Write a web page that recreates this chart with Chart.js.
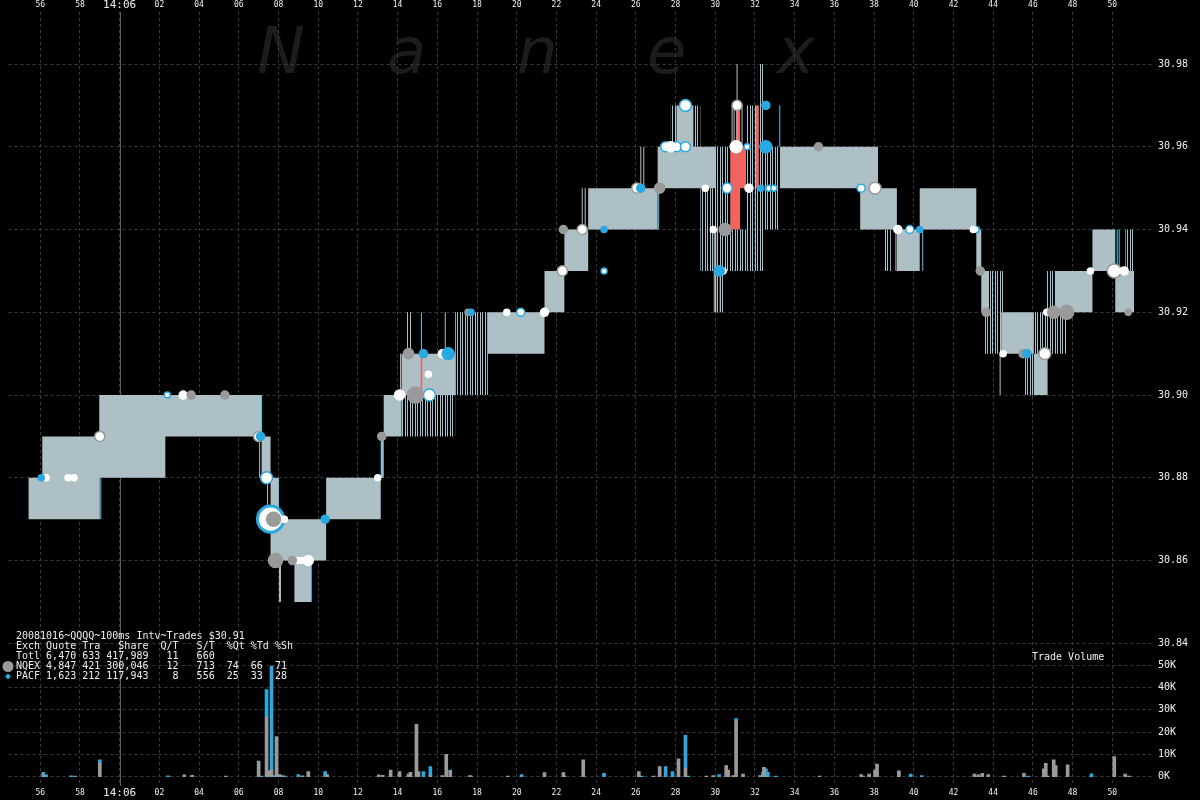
<!DOCTYPE html>
<html>
<head>
<meta charset="utf-8">
<script src="https://cdn.jsdelivr.net/npm/chart.js@4.4.1/dist/chart.umd.min.js"></script>
<style>
  html, body { margin: 0; padding: 0; background: #000; }
</style>
</head>
<body>
<canvas id="chart" width="1200" height="800"></canvas>
<script>
// time is in seconds relative to 14:06:00
const tickSecs = [-4, -2, 0, 2, 4, 6, 8, 10, 12, 14, 16, 18, 20, 22, 24, 26, 28, 30, 32, 34, 36, 38, 40, 42, 44, 46, 48, 50];
const tickLabels = ['56', '58', '14:06', '02', '04', '06', '08', '10', '12', '14', '16', '18', '20', '22', '24', '26', '28', '30', '32', '34', '36', '38', '40', '42', '44', '46', '48', '50'];
const priceTicks = [30.84, 30.86, 30.88, 30.90, 30.92, 30.94, 30.96, 30.98];
const volTicks = [0, 10, 20, 30, 40, 50];

const infoLines = [
    '20081016~QQQQ~100ms Intv~Trades $30.91',
    'Exch Quote Tra   Share  Q/T   S/T  %Qt %Td %Sh',
    'Totl 6,470 633 417,989   11   660',
    'NQEX 4,847 421 300,046   12   713  74  66  71',
    'PACF 1,623 212 117,943    8   556  25  33  28'
];

// quote range per interval (value holds until next time, null = no quote)
const solidT = [-4.6, -3.9, -1.0, 2.3, 7.15, 7.6, 8.0, 8.8, 9.65, 10.4, 13.15, 13.3, 14.2, 16.9, 18.55, 21.4, 22.4, 23.6, 27.1, 28.05, 28.9, 30.05, 33.25, 37.3, 38.2, 39.15, 40.3, 43.15, 43.4, 43.8, 44.4, 46.05, 46.75, 47.1, 49.0, 50.15, 51.1];
const solidLo = [30.87, 30.87, 30.88, 30.89, 30.88, 30.86, 30.86, 30.85, 30.86, 30.87, 30.88, 30.89, 30.90, null, 30.91, 30.92, 30.93, 30.94, 30.95, 30.95, 30.95, null, 30.95, 30.94, 30.94, 30.93, 30.94, 30.93, 30.92, null, 30.91, 30.90, null, 30.92, 30.93, 30.92, null];
const solidHi = [30.88, 30.89, 30.90, 30.90, 30.89, 30.88, 30.87, 30.87, 30.87, 30.88, 30.89, 30.90, 30.91, null, 30.92, 30.93, 30.94, 30.95, 30.96, 30.97, 30.96, null, 30.96, 30.96, 30.95, 30.94, 30.95, 30.94, 30.93, null, 30.92, 30.91, null, 30.93, 30.94, 30.93, null];

// flickering quote regions (drawn as sparse lines)
const sparseT = [14.2, 16.9, 18.55, 27.75, 28.05, 28.9, 29.25, 29.9, 30.4, 30.75, 31.55, 32.15, 32.5, 33.25, 38.55, 38.85, 43.5, 43.8, 44.4, 44.55, 45.6, 46.05, 46.7, 47.1, 47.7, 50.65, 51.1];
const sparseLo = [30.89, 30.90, null, 30.96, null, 30.96, 30.93, 30.92, 30.93, 30.93, 30.93, 30.93, 30.94, null, 30.93, null, 30.91, 30.91, 30.92, null, 30.90, 30.91, 30.91, 30.91, null, 30.93, null];
const sparseHi = [30.90, 30.92, null, 30.97, null, 30.97, 30.95, 30.96, 30.96, 30.94, 30.97, 30.98, 30.96, null, 30.94, null, 30.92, 30.93, 30.93, null, 30.91, 30.92, 30.93, 30.92, null, 30.94, null];

// crossed quotes
const redT = [15.15, 15.25, 30.75, 31.05, 31.25, 31.55, 32.05, 32.2];
const redLo = [30.90, null, 30.94, 30.94, 30.95, null, 30.95, null];
const redHi = [30.91, null, 30.96, 30.97, 30.96, null, 30.97, null];

// single quote spikes
const grayLineT = [-1.0, 7.05, 7.45, 8.05, 8.1, 14.15, 14.5, 14.65, 16.4, 23.3, 23.45, 26.25, 26.4, 29.95, 30.1, 30.25, 30.85, 30.95, 31.1, 31.35, 39.1, 44.35];
const grayLineLo = [30.89, 30.88, 30.87, 30.85, 30.85, 30.90, 30.91, 30.91, 30.91, 30.94, 30.94, 30.95, 30.95, 30.92, 30.92, 30.92, 30.96, 30.96, 30.96, 30.96, 30.93, 30.90];
const grayLineHi = [30.90, 30.89, 30.88, 30.86, 30.86, 30.91, 30.92, 30.92, 30.92, 30.95, 30.95, 30.96, 30.96, 30.94, 30.94, 30.93, 30.97, 30.97, 30.98, 30.97, 30.94, 30.91];
const blueLineT = [-0.95, 7.15, 8.0, 9.65, 13.2, 15.2, 27.15, 33.25, 40.45, 50.25, 50.35];
const blueLineLo = [30.87, 30.89, 30.87, 30.85, 30.88, 30.91, 30.94, 30.96, 30.93, 30.93, 30.93];
const blueLineHi = [30.88, 30.90, 30.88, 30.86, 30.89, 30.92, 30.95, 30.97, 30.94, 30.94, 30.94];

// trades: time, price, shares
const nqT = [3.6, 5.3, 7.75, 7.85, 8.7, 13.2, 14.55, 14.9, 17.55, 22.35, 27.2, 30.5, 35.2, 43.35, 43.65, 45.5, 47.05, 47.7, 50.8];
const nqP = [30.90, 30.90, 30.87, 30.86, 30.86, 30.89, 30.91, 30.90, 30.92, 30.94, 30.95, 30.94, 30.96, 30.93, 30.92, 30.91, 30.92, 30.92, 30.92];
const nqSz = [1400, 1400, 6800, 6800, 1400, 1400, 2800, 9500, 500, 1400, 2800, 4500, 1400, 1400, 1400, 1400, 4500, 6800, 500];
const pcT = [-3.95, 7.1, 10.35, 15.3, 16.55, 17.7, 24.4, 26.25, 30.2, 32.3, 32.55, 32.55, 40.3, 45.7];
const pcP = [30.88, 30.89, 30.87, 30.91, 30.91, 30.92, 30.94, 30.95, 30.93, 30.95, 30.96, 30.97, 30.94, 30.91];
const pcSz = [500, 1400, 1400, 1400, 4500, 500, 500, 1400, 2800, 500, 4500, 1400, 500, 1400];
const nqWT = [-1.0, 7.0, 22.3, 23.3, 26.05, 31.1, 38.05, 46.6, 50.1];
const nqWP = [30.89, 30.89, 30.93, 30.94, 30.95, 30.97, 30.95, 30.91, 30.93];
const nqWSz = [2800, 2800, 2800, 2800, 2800, 2800, 4500, 4500, 6800];
const pcWT = [2.4, 7.4, 7.6, 15.6, 20.2, 24.4, 27.5, 28.05, 28.5, 28.5, 30.6, 31.6, 32.7, 32.95, 37.35, 39.8, 43.15];
const pcWP = [30.90, 30.88, 30.87, 30.90, 30.92, 30.93, 30.96, 30.96, 30.96, 30.97, 30.95, 30.96, 30.95, 30.95, 30.95, 30.94, 30.94];
const pcWSz = [500, 4500, 30000, 4500, 1400, 500, 2800, 2800, 2800, 4500, 2800, 500, 500, 500, 1400, 1400, 500];
const wtT = [-3.7, -2.6, -2.3, 3.2, 8.15, 8.3, 9.0, 9.2, 9.5, 13.0, 14.1, 15.05, 15.55, 16.25, 19.5, 21.4, 27.75, 29.5, 29.9, 30.4, 31.05, 31.7, 39.2, 43.0, 44.5, 46.7, 48.9, 50.6];
const wtP = [30.88, 30.88, 30.88, 30.90, 30.87, 30.87, 30.86, 30.86, 30.86, 30.88, 30.90, 30.90, 30.905, 30.91, 30.92, 30.92, 30.96, 30.95, 30.94, 30.93, 30.96, 30.95, 30.94, 30.94, 30.91, 30.92, 30.93, 30.93];
const wtSz = [500, 500, 500, 1400, 500, 500, 500, 500, 2800, 500, 2800, 2800, 500, 1400, 500, 1400, 2800, 500, 500, 500, 4500, 1400, 1400, 500, 500, 500, 500, 1400];

// trade volume in thousands of shares
const nqVolT = [-3.85, -2.25, -1.0, 3.25, 3.65, 5.35, 7.0, 7.4, 7.55, 7.65, 7.9, 8.05, 8.2, 9.2, 9.5, 10.45, 13.05, 13.25, 13.65, 14.1, 14.55, 14.65, 14.95, 15.05, 15.65, 16.25, 16.45, 16.65, 17.65, 19.55, 21.4, 22.35, 23.35, 26.15, 26.9, 27.2, 28.15, 28.5, 29.55, 29.9, 30.55, 30.65, 30.9, 31.05, 31.4, 32.25, 32.45, 35.25, 37.35, 37.75, 38.05, 38.15, 39.25, 43.05, 43.25, 43.45, 43.75, 44.55, 45.55, 46.55, 46.65, 46.75, 47.05, 47.15, 47.75, 50.1, 50.65, 50.85];
const nqVol = [1.0, 0.3, 6.0, 0.8, 0.6, 0.3, 7.0, 26.7, 2.7, 3.0, 18.0, 1.0, 0.5, 0.4, 2.3, 1.0, 0.8, 0.6, 3.0, 2.3, 1.2, 2.0, 23.4, 2.3, 0.5, 0.5, 10.0, 2.5, 0.5, 0.3, 1.8, 1.8, 7.6, 2.3, 0.3, 4.5, 8.0, 3.8, 0.3, 0.5, 5.0, 3.0, 0.5, 25.0, 1.2, 0.5, 4.2, 0.3, 1.0, 1.2, 3.0, 5.7, 2.6, 1.2, 0.8, 1.5, 1.0, 0.3, 1.5, 3.5, 6.0, 0.3, 7.5, 5.0, 5.3, 9.0, 1.2, 0.3];
const pcVolT = [-3.85, -3.7, -2.45, -1.0, 2.45, 7.15, 7.4, 7.65, 7.8, 8.35, 9.0, 10.35, 15.3, 15.65, 16.65, 17.7, 20.25, 22.4, 24.4, 26.3, 27.5, 27.85, 28.5, 28.65, 30.2, 31.05, 32.4, 32.55, 32.65, 33.05, 37.45, 39.85, 40.4, 45.75, 48.95];
const pcVol = [1.0, 0.8, 0.4, 1.5, 0.4, 0.3, 12.3, 46.5, 0.5, 0.3, 1.0, 2.3, 2.3, 4.0, 0.5, 0.3, 1.0, 0.3, 1.5, 0.3, 4.5, 2.3, 14.7, 0.3, 1.0, 1.0, 2.0, 3.5, 2.0, 0.3, 0.3, 1.2, 0.5, 0.3, 1.3];

const GRAY = '#9a9a9a';
const BLUE = '#29a9e1';
const GRID = '#3a3a3a';
const MONO = '"DejaVu Sans Mono", monospace';

// both value axes fill the same plot height
const PRICE_MIN = 30.80551, PRICE_MAX = 30.99257;
const VOL_MIN = -4.16, VOL_MAX = 342.3;

function stripes(cols) {
    const c = document.createElement('canvas');
    c.width = cols.length;
    c.height = 1;
    const g = c.getContext('2d');
    cols.forEach((col, i) => {
        if (col) {
            g.fillStyle = col;
            g.fillRect(i, 0, 1, 1);
        }
    });
    return g.createPattern(c, 'repeat');
}
const solidFill = stripes(['#9fc2cf', '#bdbdbd']);
const sparseFill = stripes(['#bdbdbd', null, '#87c8e2', null, null]);

// stepped points, closing each run before a gap
function stepPoints(ts, vals) {
    const pts = [];
    for (let i = 0; i < ts.length; i++) {
        const v = vals[i];
        if (v === null) {
            pts.push({x: ts[i], y: null});
            continue;
        }
        pts.push({x: ts[i], y: v});
        if (i + 1 < ts.length && vals[i + 1] === null) pts.push({x: ts[i + 1], y: v});
    }
    return pts;
}

function spikePoints(ts, lo, hi) {
    const pts = [];
    ts.forEach((t, i) => {
        pts.push({x: t, y: lo[i]}, {x: t, y: hi[i]}, {x: t, y: null});
    });
    return pts;
}

function tradePoints(ts, ps, sz) {
    return ts.map((t, i) => ({x: t, y: ps[i], sz: sz[i]}));
}

function volPoints(ts, vs) {
    return ts.map((t, i) => ({x: t, y: vs[i]}));
}

const radius = (sz) => 1.5 + Math.sqrt(sz) / 15;

function bandPair(ts, lo, hi, fill, order) {
    const base = {type: 'line', yAxisID: 'y', stepped: true, borderWidth: 0, pointRadius: 0, spanGaps: false, order: order};
    return [
        Object.assign({}, base, {data: stepPoints(ts, hi), fill: false}),
        Object.assign({}, base, {data: stepPoints(ts, lo), fill: '-1', backgroundColor: fill})
    ];
}

function spikeSet(ts, lo, hi, color, order) {
    return {type: 'line', yAxisID: 'y', data: spikePoints(ts, lo, hi), borderColor: color, borderWidth: 1,
        pointRadius: 0, spanGaps: false, fill: false, order: order};
}

function tradeSet(ts, ps, sz, fill, stroke, order) {
    return {type: 'line', yAxisID: 'y', showLine: false, data: tradePoints(ts, ps, sz), order: order,
        pointRadius: (ctx) => radius(ctx.raw.sz),
        pointBackgroundColor: fill, pointBorderColor: stroke,
        pointBorderWidth: (ctx) => (ctx.raw.sz > 20000 ? 3 : 1.5)};
}

function volSet(ts, vs, color, order) {
    return {type: 'bar', yAxisID: 'yv', data: volPoints(ts, vs), backgroundColor: color,
        barThickness: 3, borderWidth: 0, order: order};
}

// volume tick value expressed on the price axis (same pixel)
const volAsPrice = (v) => PRICE_MIN + (v - VOL_MIN) / (VOL_MAX - VOL_MIN) * (PRICE_MAX - PRICE_MIN);

const overlay = {
    id: 'overlay',
    beforeDraw(chart) {
        const ctx = chart.ctx;
        ctx.save();
        ctx.fillStyle = '#000';
        ctx.fillRect(0, 0, chart.width, chart.height);
        // watermark
        ctx.fillStyle = '#1c1c1c';
        ctx.font = 'italic 64px "DejaVu Sans"';
        ctx.textBaseline = 'alphabetic';
        'Nanex'.split('').forEach((ch, i) => ctx.fillText(ch, 257 + i * 130, 73));
        ctx.restore();
    },
    beforeDatasetsDraw(chart) {
        const ctx = chart.ctx;
        const area = chart.chartArea;
        const x0 = Math.round(chart.scales.x.getPixelForValue(0)) + 0.5;
        ctx.save();
        ctx.strokeStyle = '#5e5e5e';
        ctx.lineWidth = 1;
        ctx.beginPath();
        ctx.moveTo(x0, area.top);
        ctx.lineTo(x0, area.bottom);
        ctx.stroke();

        ctx.font = '10px ' + MONO;
        ctx.fillStyle = '#f0f0f0';
        ctx.textBaseline = 'middle';
        infoLines.forEach((line, i) => ctx.fillText(line, 16, 636 + i * 10.2));
        ctx.fillText('Trade Volume', 1032, 657);

        // legend markers
        ctx.fillStyle = GRAY;
        ctx.beginPath();
        ctx.arc(8, 666.5, 5.5, 0, Math.PI * 2);
        ctx.fill();
        ctx.fillStyle = BLUE;
        ctx.beginPath();
        ctx.moveTo(8, 673.5);
        ctx.lineTo(11, 676.5);
        ctx.lineTo(8, 679.5);
        ctx.lineTo(5, 676.5);
        ctx.closePath();
        ctx.fill();
        ctx.restore();
    }
};

const xTickFont = (ctx) => ({
    family: MONO,
    size: ctx.tick && ctx.tick.value === 0 ? 11 : 8,
    lineHeight: '10px'
});

function timeAxis(position, height, showGrid) {
    return {
        type: 'linear',
        axis: 'x',
        position: position,
        min: -5.6,
        max: 52,
        offset: false,
        stacked: true,
        afterBuildTicks: (s) => { s.ticks = tickSecs.map(v => ({value: v})); },
        afterFit: (s) => { s.height = height; },
        grid: {display: showGrid, offset: false, color: GRID, drawTicks: false},
        border: {display: false, dash: [3, 3]},
        ticks: {
            color: '#f0f0f0',
            padding: 2,
            autoSkip: false,
            maxRotation: 0,
            font: xTickFont,
            callback: (v) => tickLabels[tickSecs.indexOf(v)]
        }
    };
}

const datasets = [].concat(
    bandPair(sparseT, sparseLo, sparseHi, sparseFill, 30),
    bandPair(solidT, solidLo, solidHi, solidFill, 28),
    bandPair(redT, redLo, redHi, '#f0645f', 26),
    [
        spikeSet(grayLineT, grayLineLo, grayLineHi, '#bdbdbd', 24),
        spikeSet(blueLineT, blueLineLo, blueLineHi, '#5cc0ea', 23),
        volSet(nqVolT, nqVol, GRAY, 20),
        volSet(pcVolT, pcVol, BLUE, 21),
        tradeSet(pcWT, pcWP, pcWSz, '#ffffff', BLUE, 5),
        tradeSet(nqWT, nqWP, nqWSz, '#ffffff', GRAY, 4),
        tradeSet(wtT, wtP, wtSz, '#ffffff', '#ffffff', 3),
        tradeSet(nqT, nqP, nqSz, GRAY, GRAY, 2),
        tradeSet(pcT, pcP, pcSz, BLUE, BLUE, 1)
    ]
);

new Chart(document.getElementById('chart'), {
    type: 'line',
    data: {datasets: datasets},
    options: {
        responsive: false,
        animation: false,
        devicePixelRatio: 1,
        events: [],
        layout: {padding: 0},
        plugins: {
            legend: {display: false},
            tooltip: {enabled: false}
        },
        scales: {
            x: timeAxis('bottom', 14, true),
            xTop: timeAxis('top', 12, false),
            // price axis also carries the volume tick labels and grid lines
            y: {
                type: 'linear',
                position: 'right',
                min: PRICE_MIN,
                max: PRICE_MAX,
                afterBuildTicks: (s) => {
                    s.ticks = priceTicks.map(v => ({value: v}))
                        .concat(volTicks.map(v => ({value: volAsPrice(v)})));
                },
                afterFit: (s) => { s.width = 48; },
                grid: {color: GRID, drawTicks: false},
                border: {display: false, dash: [3, 3]},
                ticks: {
                    color: '#f0f0f0',
                    padding: 6,
                    autoSkip: false,
                    font: {family: MONO, size: 10},
                    callback: (v, i) => (i < priceTicks.length ? v.toFixed(2) : volTicks[i - priceTicks.length] + 'K')
                }
            },
            yv: {
                type: 'linear',
                display: false,
                stacked: true,
                min: VOL_MIN,
                max: VOL_MAX
            }
        }
    },
    plugins: [overlay]
});
</script>
</body>
</html>
